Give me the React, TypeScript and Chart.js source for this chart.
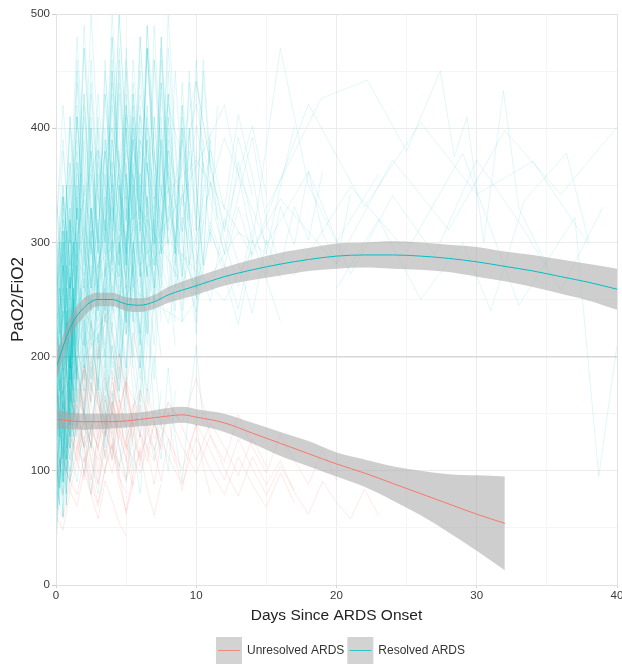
import React, { useEffect, useRef } from "react";
import { Chart, registerables } from "chart.js";
Chart.register(...registerables);

const CYAN = "#00BFC4";
const RED = "#F8766D";
const FONT = "'Liberation Sans', Arial, sans-serif";

// x-axis ticks (days) and y-axis ticks
const dayTicks = [0, 10, 20, 30, 40];
const pfTicks = [0, 100, 200, 300, 400, 500];
const thresholdPF = 200;

// Resolved ARDS: first-day measurements every quarter day
const resolvedQuarterDay: number[][] = [
  [140, 210, 90, 260, 180, 300, 220],
  [60, 150, 110, 230, 170, 250],
  [200, 120, 280, 190, 320, 240, 350],
  [95, 180, 130, 70, 210, 160, 270],
  [250, 170, 310, 220, 140, 260],
  [45, 110, 80, 190, 140, 230, 180, 260],
  [180, 260, 150, 310, 230, 200, 290],
  [120, 70, 160, 240, 130, 210],
  [300, 220, 340, 260, 190, 280, 330],
  [80, 140, 200, 110, 250, 170],
  [220, 150, 90, 200, 270, 180, 240],
  [160, 230, 300, 190, 120, 260, 210, 330],
  [70, 120, 60, 150, 220, 140],
  [270, 190, 240, 350, 260, 300],
  [110, 190, 150, 80, 180, 250, 160],
  [190, 130, 210, 280, 170, 230, 310],
  [55, 100, 170, 120, 200, 150],
  [240, 300, 180, 250, 330, 210, 280, 360],
  [130, 85, 150, 110, 190, 240, 170],
  [35, 90, 140, 100, 170, 130, 210],
];

// Resolved ARDS: measurements every half day
const resolvedHalfDay: number[][] = [
  [210, 320, 250, 380, 290, 430, 340, 270, 390, 310, 460, 350, 280, 410, 330, 480, 360, 300, 420, 340],
  [120, 190, 150, 240, 180, 290, 220, 170, 260, 200, 310, 240, 190, 280],
  [300, 230, 370, 280, 420, 330, 250, 360, 290, 440, 350, 270, 390, 320, 460, 380, 300],
  [160, 250, 200, 140, 230, 310, 210, 280, 350, 250, 190, 300, 240, 330],
  [90, 160, 120, 210, 170, 260, 200, 150, 240, 300, 220, 280, 190, 250, 320, 230],
  [260, 340, 280, 410, 330, 260, 370, 300, 450, 360, 290, 400, 320, 490, 380],
  [180, 120, 210, 280, 190, 330, 250, 200, 310, 240, 370, 280, 220, 340, 260, 300, 380, 290, 230, 320],
  [240, 310, 220, 370, 290, 460, 350, 280, 420, 330, 260, 390, 310, 470, 360, 290, 410, 330],
  [140, 200, 260, 180, 310, 230, 170, 280, 220, 350, 260, 200, 320, 250],
  [70, 130, 100, 180, 140, 230, 170, 120, 210, 160, 260, 190, 150, 240, 180, 290],
  [330, 260, 400, 310, 470, 360, 290, 430, 340, 500, 390, 310, 450, 360],
  [200, 280, 230, 160, 250, 330, 240, 310, 260, 380, 290, 230, 350, 270, 320, 410, 300],
  [110, 170, 130, 220, 160, 120, 200, 270, 190, 240, 180, 300, 220, 160, 250, 200],
  [280, 350, 260, 420, 310, 380, 290, 460, 340, 270, 400, 320, 480, 370, 300, 430],
  [150, 230, 190, 280, 210, 330, 260, 200, 300, 240, 360, 270, 210, 320, 250, 390, 290, 230],
  [230, 170, 280, 210, 350, 260, 320, 240, 400, 300, 230, 340, 270, 420, 310, 250, 370, 290, 440, 330, 260, 380],
  [100, 160, 130, 200, 150, 250, 190, 140, 230, 180, 280, 210, 160, 260],
  [260, 200, 320, 250, 390, 300, 240, 350, 280, 430, 330, 260, 380, 300, 460, 350],
  [170, 250, 210, 300, 230, 180, 270, 340, 250, 310, 230, 370, 280, 220, 330, 260, 400, 300],
  [310, 390, 300, 460, 360, 290, 410, 330, 480, 370, 300, 440, 340],
  [130, 90, 170, 130, 220, 160, 270, 200, 150, 240, 190, 290, 220, 170, 260],
  [220, 290, 240, 340, 270, 210, 310, 380, 280, 350, 260, 410, 310, 250, 360, 290, 430],
  [190, 260, 200, 310, 240, 380, 290, 230, 340, 270, 410, 300, 250, 370, 280, 460, 350, 290, 400, 320],
  [80, 140, 110, 190, 150, 120, 200, 260, 180, 230, 170, 280, 210],
  [290, 230, 350, 270, 410, 320, 260, 380, 300, 450, 340, 280, 400, 330, 490, 370, 310],
  [150, 210, 170, 260, 200, 310, 240, 190, 290, 230, 340, 260, 210, 320, 250, 380],
  [250, 320, 260, 390, 300, 240, 360, 290, 430, 330, 270, 390, 310, 470, 350, 290, 410, 330, 260, 380, 310, 440],
  [120, 180, 140, 230, 170, 280, 210, 160, 250, 200, 300, 230, 180, 270],
  [340, 280, 410, 320, 470, 370, 300, 430, 350, 500, 390, 320, 460],
  [200, 150, 240, 190, 290, 220, 170, 270, 340, 250, 300, 230, 360, 270, 210, 320],
  [60, 110, 90, 150, 120, 200, 160, 130, 210, 170, 250, 190],
  [270, 340, 280, 410, 320, 260, 380, 300, 450, 350, 280, 400, 320, 470, 360],
  [180, 240, 190, 290, 230, 180, 270, 330, 250, 300, 230, 360, 280, 220, 340, 270, 390, 300, 240, 350],
  [230, 300, 250, 360, 280, 440, 340, 270, 390, 310, 470, 360, 290, 420],
  [140, 200, 160, 250, 190, 300, 230, 180, 280, 220, 330, 250, 200, 300, 240, 350, 270, 210],
  [310, 250, 370, 290, 430, 340, 270, 390, 310, 460, 350, 290, 410, 330],
  [160, 230, 180, 280, 220, 170, 260, 320, 240, 290, 220, 350, 270, 210, 310, 250],
  [100, 150, 120, 190, 150, 230, 180, 140, 220, 170, 260, 200],
  [240, 310, 250, 370, 290, 230, 340, 400, 310, 360, 280, 430, 330, 270, 380, 310, 450, 340],
  [210, 270, 220, 330, 260, 400, 310, 250, 360, 290, 420, 330, 270, 390, 310],
  [85, 60, 120, 90, 150, 110, 80, 130, 170, 120, 90, 150, 200, 140, 110, 170],
  [165, 110, 200, 140, 95, 170, 220, 150, 110, 190, 240, 170, 130, 210],
  [260, 380, 300, 450, 340, 500, 390, 310, 440, 360, 280, 410, 330, 470, 380, 300, 430, 350, 270, 400, 320, 460, 370],
  [190, 280, 220, 350, 260, 410, 300, 240, 370, 290, 450, 340, 270, 400, 310, 480, 360, 290, 420, 330, 260, 390],
  [310, 420, 340, 480, 370, 290, 430, 350, 500, 400, 320, 460, 370, 290, 410, 340, 470, 380, 300, 440, 350, 280, 390, 320],
  [150, 240, 190, 300, 220, 360, 270, 210, 330, 260, 400, 300, 240, 370, 280, 440, 330, 260, 390, 300, 230, 350],
  [220, 330, 260, 410, 310, 240, 380, 290, 460, 350, 280, 420, 320, 490, 380, 300, 430, 340, 270, 400, 310, 450, 360],
  [280, 200, 340, 260, 430, 320, 250, 390, 300, 470, 360, 290, 420, 330, 260, 400, 310, 450, 350, 280, 380],
  [170, 260, 210, 330, 250, 400, 300, 230, 350, 280, 430, 320, 260, 390, 300, 470, 350, 280, 410, 320, 250, 370, 300, 420],
  [340, 270, 410, 320, 490, 380, 300, 450, 360, 280, 420, 340, 480, 370, 290, 440, 350, 270, 400, 320, 460, 360],
  [120, 200, 160, 270, 210, 330, 250, 190, 300, 240, 360, 270, 220, 340, 260, 390, 300, 240, 350, 280, 220, 320],
  [240, 350, 280, 440, 330, 260, 400, 310, 480, 370, 290, 430, 340, 270, 410, 320, 500, 390, 310, 450, 350, 280, 400],
  [110, 170, 90, 150, 200, 130, 180, 110, 160, 220, 140, 100, 170, 240, 150, 110, 190, 130, 90, 160, 210, 140],
  [70, 120, 95, 160, 120, 80, 140, 190, 130, 100, 170, 120, 80, 150, 200, 140, 100, 170],
];

// Resolved ARDS: one measurement per day
const resolvedDaily: number[][] = [
  [204, 262, 313, 278, 352, 301, 389, 338, 421, 372, 298, 381, 329, 412, 358, 291, 349, 402],
  [152, 221, 268, 241, 302, 259, 331, 288, 249, 322, 281, 353, 302, 261, 312],
  [248, 302, 271, 342, 289, 381, 331, 279, 362, 309, 402, 338, 291, 371, 318, 272, 331, 298, 362, 309, 281, 342],
  [121, 183, 232, 198, 262, 219, 301, 248, 332, 281, 239, 312, 271, 228, 292],
  [298, 259, 341, 382, 318, 412, 352, 298, 381, 332, 441, 368, 309, 392, 341],
  [182, 243, 209, 281, 332, 268, 361, 309, 258, 342, 291, 248, 321, 282, 238, 302, 269],
  [232, 281, 338, 292, 371, 318, 412, 349, 298, 368, 421, 352, 289, 341, 392, 318, 279, 331, 302, 362],
  [168, 219, 262, 231, 289, 248, 318, 271, 349, 298, 252, 309, 278, 331, 289],
  [264, 318, 284, 352, 401, 338, 429, 372, 318, 389, 441, 368, 312, 359, 402, 341],
  [142, 198, 242, 212, 278, 239, 311, 268, 229, 291, 259, 318, 281, 242, 302, 268, 231],
];

// Resolved ARDS with long, sparse follow-up: [day, PaO2/FiO2]
const resolvedLong: [number, number][][] = [
  [[0, 210], [3, 280], [6, 330], [9, 262], [12, 391], [15, 298], [18, 362], [21, 272], [24, 341], [27, 289], [30, 372], [33, 318], [36, 258], [39, 331]],
  [[0, 160], [4, 238], [8, 302], [12, 249], [16, 338], [20, 281], [24, 372], [28, 311], [32, 398], [36, 342], [40, 401]],
  [[2, 250], [6, 318], [10, 372], [14, 289], [18, 421], [22, 331], [26, 405], [30, 342], [34, 371], [38, 298]],
  [[1, 190], [5, 262], [9, 231], [13, 309], [17, 271], [21, 349], [25, 292], [29, 378], [33, 245], [37, 322], [38.7, 95], [40, 210]],
  [[15, 330], [17.4, 389], [18.9, 426], [22.2, 442], [25, 380], [27.4, 450], [28.4, 375], [29.3, 410], [30.5, 300], [31.9, 433], [33, 330], [35, 280]],
  [[20, 260], [23, 320], [26, 250], [29, 300], [31, 240], [33.4, 337], [36.4, 378], [38, 300]],
  [[6, 280], [9, 340], [12, 420], [14, 300], [16, 470], [18, 350], [20, 300], [23, 360]],
];

// Unresolved ARDS: every half day
const unresolvedHalfDay: number[][] = [
  [152, 118, 171, 139, 192, 158, 128, 181, 149, 202, 168, 141],
  [102, 78, 131, 108, 92, 141, 119, 98, 152, 128],
  [178, 212, 168, 138, 193, 161, 209, 178, 149, 203, 171, 221, 189],
  [72, 58, 91, 79, 112, 88, 69, 101, 122, 94, 81],
  [131, 162, 138, 109, 151, 121, 89, 132, 161, 139, 108, 152, 129, 172, 141, 118],
  [198, 168, 231, 189, 158, 212, 179, 238, 201, 169],
  [88, 121, 99, 142, 111, 79, 122, 151, 128, 98, 62, 91],
  [162, 141, 119, 172, 149, 191, 158, 131, 182, 149, 118, 142, 109, 161],
  [109, 142, 171, 128, 98, 139, 182, 151, 119, 162, 131, 88, 121],
  [61, 48, 82, 69, 101, 79, 58, 91, 74, 54, 43],
  [141, 182, 148, 119, 161, 203, 169, 138, 109, 149, 181, 139, 171],
  [219, 188, 241, 208, 179, 232, 198, 251, 221, 189],
  [118, 96, 139, 158, 121, 92, 131, 162, 138, 104, 128, 149],
  [168, 139, 192, 151, 121, 178, 143, 112, 159, 131, 171, 142],
  [82, 109, 91, 121, 142, 108, 88, 119, 98, 131, 112, 84],
  [148, 172, 131, 159, 188, 142, 119, 166, 138, 191, 152, 129, 168],
  [128, 152, 109, 141, 172, 131, 98, 138, 161, 122, 94, 131, 158, 119, 88, 126, 149, 112, 83, 118, 141, 104, 79],
  [172, 138, 161, 195, 148, 122, 169, 139, 112, 151, 178, 135, 104, 142, 119, 91, 128, 106],
  [92, 118, 82, 106, 131, 96, 72, 103, 124, 88, 65, 97, 118, 84, 61, 89],
  [205, 171, 214, 182, 151, 196, 162, 133, 178, 147, 121, 159, 132, 108, 144, 119],
];

// Unresolved ARDS: one measurement per day
const unresolvedDaily: number[][] = [
  [145, 168, 121, 152, 188, 139, 171, 128, 159, 142, 181, 131, 108, 149, 121, 98, 132, 109, 88, 118, 92],
  [118, 92, 138, 109, 151, 122, 98, 141, 112, 88, 129, 101, 79, 112, 88, 68, 98, 72],
  [172, 141, 189, 158, 132, 178, 149, 118, 161, 138, 109, 142, 121, 96, 128, 104],
  [99, 128, 108, 141, 119, 92, 132, 108, 151, 121, 98, 131, 102, 78, 112, 88, 109, 81, 62, 91, 72, 58, 84, 61],
  [158, 182, 149, 121, 168, 139, 112, 152, 128, 101, 141, 118, 92, 128, 102, 79, 104, 83],
];

// Smoothed trend (loess) and 95% band — resolved
const resolvedSmoothDays = [0, 1, 2, 3, 4, 5, 6, 7, 8, 10, 12, 14, 16, 18, 20, 22, 24, 26, 28, 30, 32, 34, 36, 38, 40];
const resolvedSmooth = [190, 225, 243, 250, 250, 246, 245, 248, 254, 262, 270, 276, 281, 285, 288, 289, 289, 288, 286, 283, 279, 275, 270, 265, 259];
const resolvedUpper = [202, 234, 251, 256, 256, 252, 251, 254, 261, 270, 278, 285, 291, 295, 299, 300, 301, 300, 298, 296, 292, 289, 285, 281, 277];
const resolvedLower = [178, 216, 235, 244, 244, 240, 239, 242, 247, 254, 262, 267, 271, 275, 277, 278, 277, 276, 274, 270, 266, 261, 255, 249, 241];

// Smoothed trend and band — unresolved
const unresolvedSmoothDays = [0, 2, 4, 6, 8, 9, 10, 12, 14, 16, 18, 20, 22, 24, 26, 28, 30, 32];
const unresolvedSmooth = [145, 143, 143, 145, 148, 149, 147, 142, 133, 124, 115, 106, 98, 89, 80, 71, 62, 54];
const unresolvedUpper = [153, 150, 150, 151, 155, 156, 154, 150, 142, 134, 126, 116, 110, 104, 100, 97, 96, 95];
const unresolvedLower = [137, 136, 137, 139, 141, 142, 140, 134, 124, 113, 104, 95, 86, 74, 61, 46, 30, 13];

const legendItems = ["Unresolved ARDS", "Resolved ARDS"];
const legendColors = [RED, CYAN];

export default function App() {
  const ref = useRef<HTMLCanvasElement>(null);

  useEffect(() => {
    document.body.style.margin = "0";
    if (!ref.current) return;

    const spaghetti = (pts: { x: number; y: number }[], color: string, order: number) => ({
      data: pts,
      borderColor: color,
      borderWidth: 0.8,
      pointRadius: 0,
      fill: false,
      tension: 0,
      order,
    });
    const cyanEarly = "rgba(0,191,196,0.3)";
    const cyanLine = "rgba(0,191,196,0.16)";
    const cyanFaint = "rgba(0,191,196,0.15)";
    const redLine = "rgba(248,118,109,0.2)";

    const datasets: any[] = [];
    unresolvedHalfDay.forEach((p) => datasets.push(spaghetti(p.map((v, i) => ({ x: i * 0.5, y: v })), redLine, 4)));
    unresolvedDaily.forEach((p) => datasets.push(spaghetti(p.map((v, i) => ({ x: i, y: v })), redLine, 4)));
    resolvedQuarterDay.forEach((p) => datasets.push(spaghetti(p.map((v, i) => ({ x: i * 0.25, y: v })), cyanEarly, 3)));
    resolvedHalfDay.forEach((p) => datasets.push(spaghetti(p.map((v, i) => ({ x: i * 0.5, y: v })), cyanLine, 3)));
    resolvedDaily.forEach((p) => datasets.push(spaghetti(p.map((v, i) => ({ x: i, y: v })), cyanFaint, 3)));
    resolvedLong.forEach((p) => datasets.push(spaghetti(p.map(([d, v]) => ({ x: d, y: v })), cyanFaint, 3)));

    const band = (days: number[], up: number[], lo: number[]) => {
      datasets.push({
        data: days.map((d, i) => ({ x: d, y: up[i] })),
        borderWidth: 0, borderColor: "transparent", pointRadius: 0, fill: false,
        cubicInterpolationMode: "monotone", order: 2,
      });
      datasets.push({
        data: days.map((d, i) => ({ x: d, y: lo[i] })),
        borderWidth: 0, borderColor: "transparent", pointRadius: 0, fill: "-1",
        backgroundColor: "rgba(165,165,165,0.55)",
        cubicInterpolationMode: "monotone", order: 2,
      });
    };
    band(unresolvedSmoothDays, unresolvedUpper, unresolvedLower);
    band(resolvedSmoothDays, resolvedUpper, resolvedLower);

    datasets.push({
      data: unresolvedSmoothDays.map((d, i) => ({ x: d, y: unresolvedSmooth[i] })),
      borderColor: RED, borderWidth: 1, pointRadius: 0, fill: false,
      cubicInterpolationMode: "monotone", order: 1,
    });
    datasets.push({
      data: resolvedSmoothDays.map((d, i) => ({ x: d, y: resolvedSmooth[i] })),
      borderColor: CYAN, borderWidth: 1, pointRadius: 0, fill: false,
      cubicInterpolationMode: "monotone", order: 1,
    });

    const extras = {
      id: "extras",
      afterDraw(chart: any) {
        const { ctx, chartArea } = chart;
        ctx.save();
        ctx.strokeStyle = "#e2e2e2";
        ctx.lineWidth = 1;
        ctx.strokeRect(chartArea.left + 0.5, chartArea.top + 0.5, chartArea.right - chartArea.left, chartArea.bottom - chartArea.top);

        // legend, centred under the panel
        ctx.font = `12px ${FONT}`;
        ctx.textBaseline = "middle";
        const boxW = 26, boxH = 27, gapText = 5, gapItem = 3;
        const widths = legendItems.map((t) => ctx.measureText(t).width);
        const total = legendItems.length * (boxW + gapText) + widths.reduce((a, b) => a + b, 0) + gapItem;
        let x = (chartArea.left + chartArea.right) / 2 - total / 2 + 4;
        const top = chart.height - 28;
        const mid = top + boxH / 2;
        legendItems.forEach((t, i) => {
          ctx.fillStyle = "#d3d3d3";
          ctx.fillRect(x, top, boxW, boxH);
          ctx.strokeStyle = legendColors[i];
          ctx.lineWidth = 0.8;
          ctx.beginPath();
          ctx.moveTo(x + 2, mid);
          ctx.lineTo(x + boxW - 2, mid);
          ctx.stroke();
          ctx.fillStyle = "#333";
          ctx.fillText(t, x + boxW + gapText, mid);
          x += boxW + gapText + widths[i] + gapItem;
        });
        ctx.restore();
      },
    };

    const chart = new Chart(ref.current, {
      type: "line",
      data: { datasets },
      plugins: [extras],
      options: {
        animation: false,
        responsive: true,
        maintainAspectRatio: false,
        parsing: false as any,
        normalized: true,
        events: [],
        layout: { padding: { top: 14, right: 5, bottom: 40, left: 0 } },
        plugins: {
          tooltip: { enabled: false },
          legend: { display: false },
        },
        scales: {
          x: {
            type: "linear",
            min: 0,
            max: 40,
            afterFit: (s: any) => { s.height = 40; s.paddingRight = 0; s.paddingLeft = 0; },
            ticks: {
              stepSize: 5,
              padding: 1,
              color: "#3a3a3a",
              font: { family: FONT, size: 11.5 },
              maxRotation: 0,
              callback: (v: any) => (dayTicks.includes(Number(v)) ? String(v) : ""),
            },
            grid: {
              color: (c: any) => (c.tick && Number(c.tick.value) % 10 === 0 ? "#ececec" : "#f5f5f5"),
              tickLength: 3,
              tickColor: (c: any) => (c.tick && Number(c.tick.value) % 10 === 0 ? "#cfcfcf" : "transparent"),
            },
            border: { display: true, color: "#e2e2e2" },
            title: {
              display: true,
              text: "Days Since ARDS Onset",
              color: "#222",
              font: { family: FONT, size: 15.5 },
              padding: { top: 6, bottom: 0 },
            },
          },
          y: {
            type: "linear",
            min: 0,
            max: 500,
            afterFit: (s: any) => { s.width = 56; },
            ticks: {
              stepSize: 50,
              padding: 2,
              color: "#3a3a3a",
              font: { family: FONT, size: 11.5 },
              callback: (v: any) => (pfTicks.includes(Number(v)) ? String(v) : ""),
            },
            grid: {
              color: (c: any) => {
                const v = c.tick ? Number(c.tick.value) : -1;
                if (v === thresholdPF) return "#d8d8d8";
                return v % 100 === 0 ? "#ececec" : "#f5f5f5";
              },
              lineWidth: (c: any) => (c.tick && Number(c.tick.value) === thresholdPF ? 1.5 : 1),
              tickLength: 4,
              tickColor: (c: any) => (c.tick && Number(c.tick.value) % 100 === 0 ? "#cfcfcf" : "transparent"),
            },
            border: { display: true, color: "#e2e2e2" },
            title: {
              display: true,
              text: "PaO2/FiO2",
              color: "#222",
              font: { family: FONT, size: 17 },
              padding: { top: 8, bottom: 0 },
            },
          },
        },
      },
    });
    return () => chart.destroy();
  }, []);

  return (
    <div style={{ width: 622, height: 665, position: "relative" }}>
      <canvas ref={ref} />
    </div>
  );
}
